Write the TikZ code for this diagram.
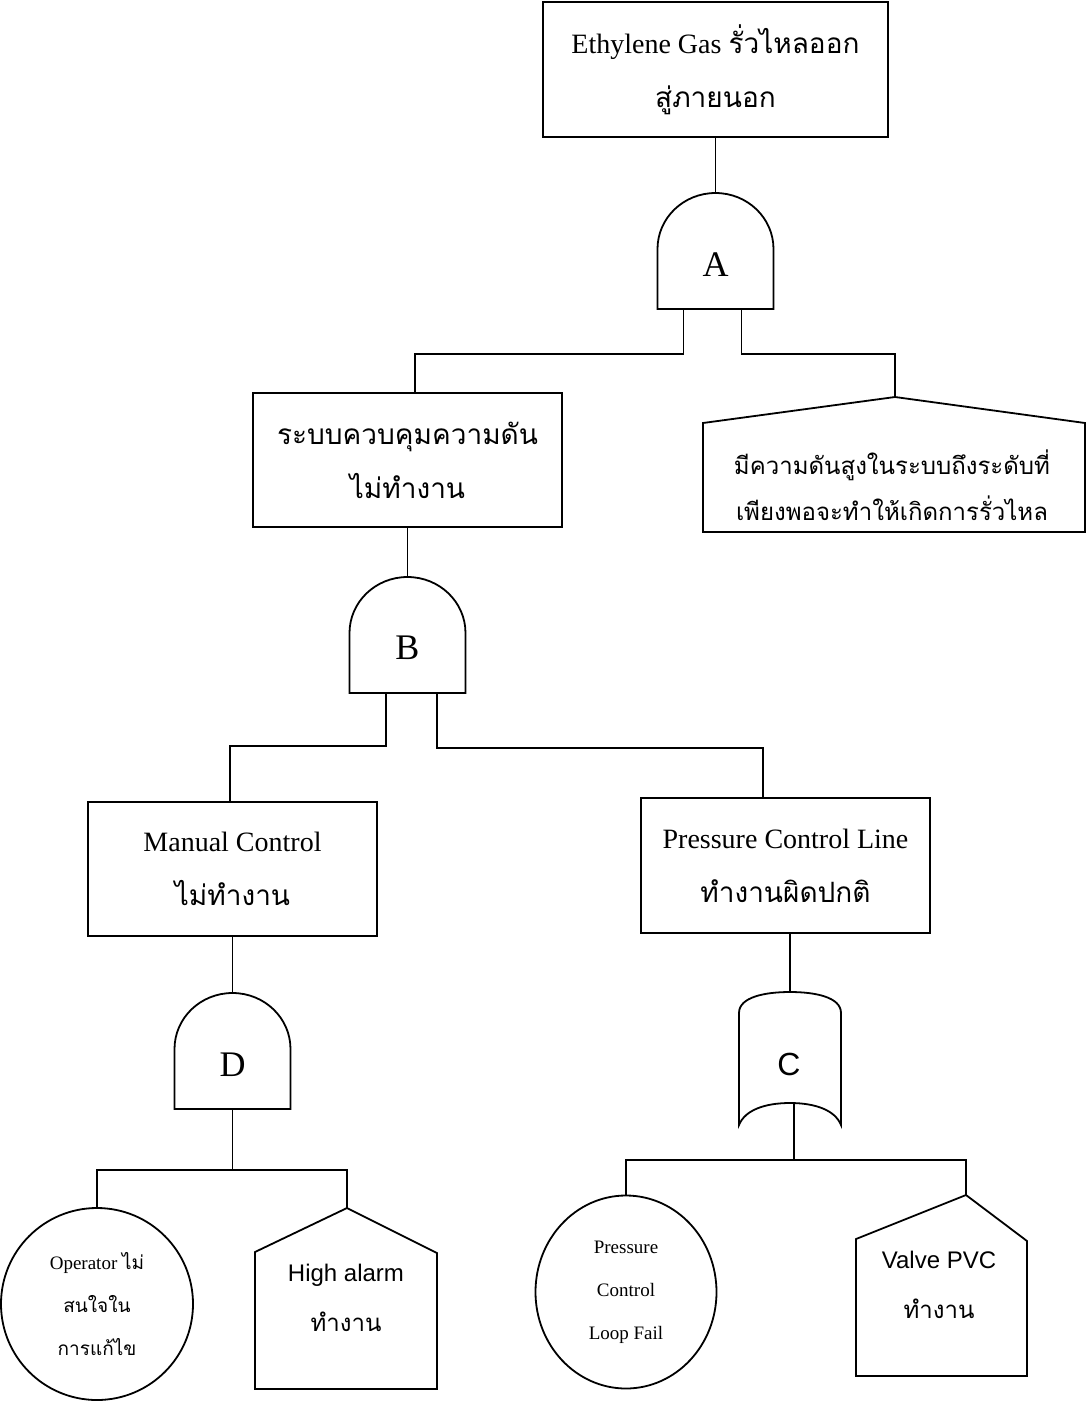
\documentclass[tikz,border=0pt]{standalone}
\usepackage{fontspec}
\setmainfont{Liberation Serif}
\newfontfamily\thaifont[Script=Thai]{Loma}
\newfontfamily\latsans{Liberation Sans}
\usetikzlibrary{shapes.geometric}

\tikzset{
  conn/.style={line width=1.8pt},
  evbox/.style={draw, line width=1.8pt, align=center, inner sep=0pt,
    font=\fontsize{28}{54}\selectfont},
  evtext/.style={align=center, inner sep=0pt, font=\fontsize{24}{50}\selectfont},
  basic/.style={draw, ellipse, line width=1.8pt, align=center, inner sep=0pt,
    font=\fontsize{19}{43}\selectfont},
  glabel/.style={font=\fontsize{36}{36}\selectfont},
  andgate/.pic={
    \draw[conn] (-58,116) -- (-58,56) .. controls (-58,25) and (-32,0) .. (0,0)
      .. controls (32,0) and (58,25) .. (58,56) -- (58,116) -- cycle;
    \coordinate (-top) at (0,0);
    \coordinate (-bot) at (0,116);
  },
  orgate/.pic={
    \draw[conn] (-51,21) .. controls (-51,5) and (-25,0) .. (0,0)
      .. controls (25,0) and (51,5) .. (51,21) -- (51,133)
      .. controls (45,118) and (25,111) .. (0,111)
      .. controls (-25,111) and (-45,118) .. (-51,133) -- cycle;
    \coordinate (-top) at (0,0);
    \coordinate (-bot) at (4,111);
  }
}

\begin{document}
\begin{tikzpicture}[x=1pt,y=-1pt]
  \useasboundingbox (0,0) rectangle (1087,1401);
  % top event
  \node[evbox, minimum width=345pt, minimum height=135pt] (top) at (715.5,69.5)
    {Ethylene Gas {\thaifont รั่วไหลออก}\\{\thaifont สู่ภายนอก}};
  \pic (gA) at (715.5,193) {andgate};
  \node[glabel] (lA) at (715.5,265) {A};
  \draw[conn] (top.south) -- (gA-top);

  % level 1
  \node[evbox, minimum width=309pt, minimum height=134pt] (sys) at (407.5,460)
    {\thaifont ระบบควบคุมความดัน\\\thaifont ไม่ทำงาน};
  \draw[conn] (703,423) -- (895,397) -- (1085,423) -- (1085,532) -- (703,532) -- cycle;
  \coordinate (hp-apex) at (895,397);
  \node[evtext, font=\fontsize{24}{46}\selectfont] (hp) at (892,485)
    {\thaifont มีความดันสูงในระบบถึงระดับที่\\\thaifont เพียงพอจะทำให้เกิดการรั่วไหล};
  \draw[conn] ([xshift=-32pt]gA-bot) -- ++(0,45) -| ([xshift=7.5pt]sys.north);
  \draw[conn] ([xshift=26pt]gA-bot) -- ++(0,45) -| (hp-apex);

  \pic (gB) at (407.5,577) {andgate};
  \node[glabel] (lB) at (407.5,648) {B};
  \draw[conn] (sys.south) -- (gB-top);

  % level 2
  \node[evbox, minimum width=289pt, minimum height=134pt] (man) at (232.5,869)
    {Manual Control\\\thaifont ไม่ทำงาน};
  \node[evbox, minimum width=289pt, minimum height=135pt] (pcl) at (785.5,865.5)
    {Pressure Control Line\\\thaifont ทำงานผิดปกติ};
  \draw[conn] ([xshift=-21.5pt]gB-bot) -- ++(0,53) -| ([xshift=-2.5pt]man.north);
  \draw[conn] ([xshift=29.5pt]gB-bot) -- ++(0,55) -| ([xshift=-22.5pt]pcl.north);

  \pic (gD) at (232.5,993) {andgate};
  \node[glabel] (lD) at (232.5,1065) {D};
  \draw[conn] (man.south) -- (gD-top);

  \pic (gC) at (790,992) {orgate};
  \node[glabel, font=\latsans\fontsize{32}{32}\selectfont] (lC) at (789,1064) {C};
  \draw[conn] (gC-top |- pcl.south) -- (gC-top);

  % basic events
  \node[basic, minimum width=192pt, minimum height=192pt] (op) at (97,1304)
    {Operator {\thaifont ไม่}\\\thaifont สนใจใน\\\thaifont การแก้ไข};
  \draw[conn] (255,1252) -- (347,1208) -- (437,1253) -- (437,1389) -- (255,1389) -- cycle;
  \coordinate (ha-apex) at (347,1208);
  \node[evtext] (ha) at (346,1298) {{\latsans High alarm}\\\thaifont ทำงาน};
  \draw[conn] (gD-bot) -- ++(0,61) coordinate (dj);
  \draw[conn] (dj) -| (op.north);
  \draw[conn] (dj) -| (ha-apex);

  \node[basic, minimum width=181pt, minimum height=193pt] (pf) at (626,1292)
    {Pressure\\Control\\Loop Fail};
  \draw[conn] (856,1239) -- (966,1195) -- (1027,1241) -- (1027,1376) -- (856,1376) -- cycle;
  \coordinate (hv-apex) at (966,1195);
  \node[evtext] (hv) at (939,1285) {{\latsans Valve PVC}\\\thaifont ทำงาน};
  \draw[conn] (gC-bot) -- ++(0,57) coordinate (cj);
  \draw[conn] (cj) -| (pf.north);
  \draw[conn] (cj) -| (hv-apex);
\end{tikzpicture}
\end{document}
